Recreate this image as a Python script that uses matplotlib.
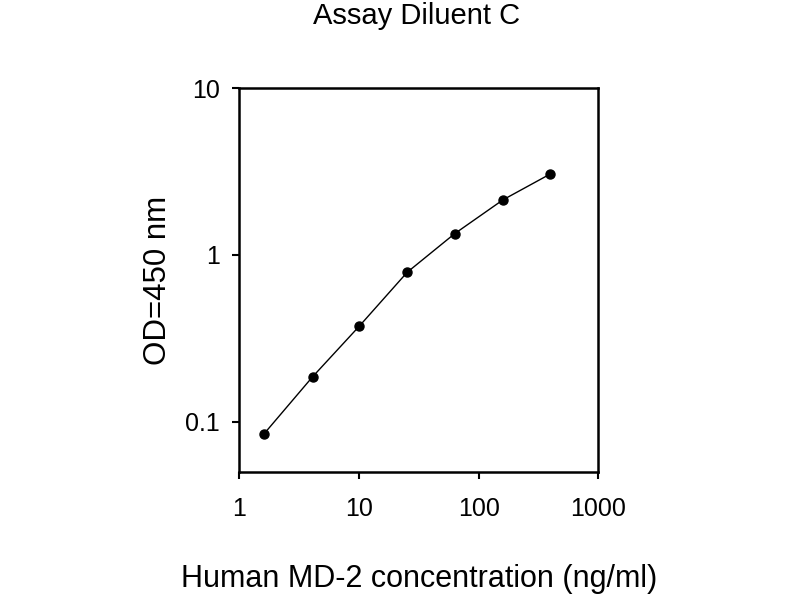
import matplotlib
matplotlib.use("Agg")
import matplotlib.pyplot as plt

plt.rcParams['font.family'] = ['Liberation Sans', 'DejaVu Sans']

concentration = [1.62, 4.1, 10.1, 25.3, 63, 160, 395]
od450 = [0.085, 0.186, 0.375, 0.787, 1.34, 2.14, 3.05]
x_ticks = [1, 10, 100, 1000]
x_tick_labels = ["1", "10", "100", "1000"]
y_ticks = [0.1, 1, 10]
y_tick_labels = ["0.1", "1", "10"]

fig = plt.figure(figsize=(8, 6), dpi=100)
ax = fig.add_axes([0.299, 0.2133, 0.449, 0.64])
ax.plot(concentration, od450, color='black', linewidth=1.0, marker='o',
        markersize=6.5, markerfacecolor='black', markeredgecolor='black')
ax.set_xscale('log')
ax.set_yscale('log')
ax.set_xlim(1, 1000)
ax.set_ylim(0.05, 10)
ax.set_xticks(x_ticks)
ax.set_xticklabels(x_tick_labels)
ax.set_yticks(y_ticks)
ax.set_yticklabels(y_tick_labels)
ax.minorticks_off()
ax.tick_params(axis='both', which='major', direction='out', length=5, width=1.5,
               labelsize=18, colors='black')
ax.tick_params(axis='x', pad=13)
ax.tick_params(axis='y', pad=9)
for s in ax.spines.values():
    s.set_linewidth(1.8)
    s.set_color('black')

ax.set_xlabel("Human MD-2 concentration (ng/ml)", fontsize=22, labelpad=31)
ax.set_ylabel("OD=450 nm", fontsize=22.5, labelpad=9)
fig.text(0.521, 0.973, "Assay Diluent C", ha='center', va='center', fontsize=21)

fig.savefig("out.png", dpi=100, facecolor='white')
